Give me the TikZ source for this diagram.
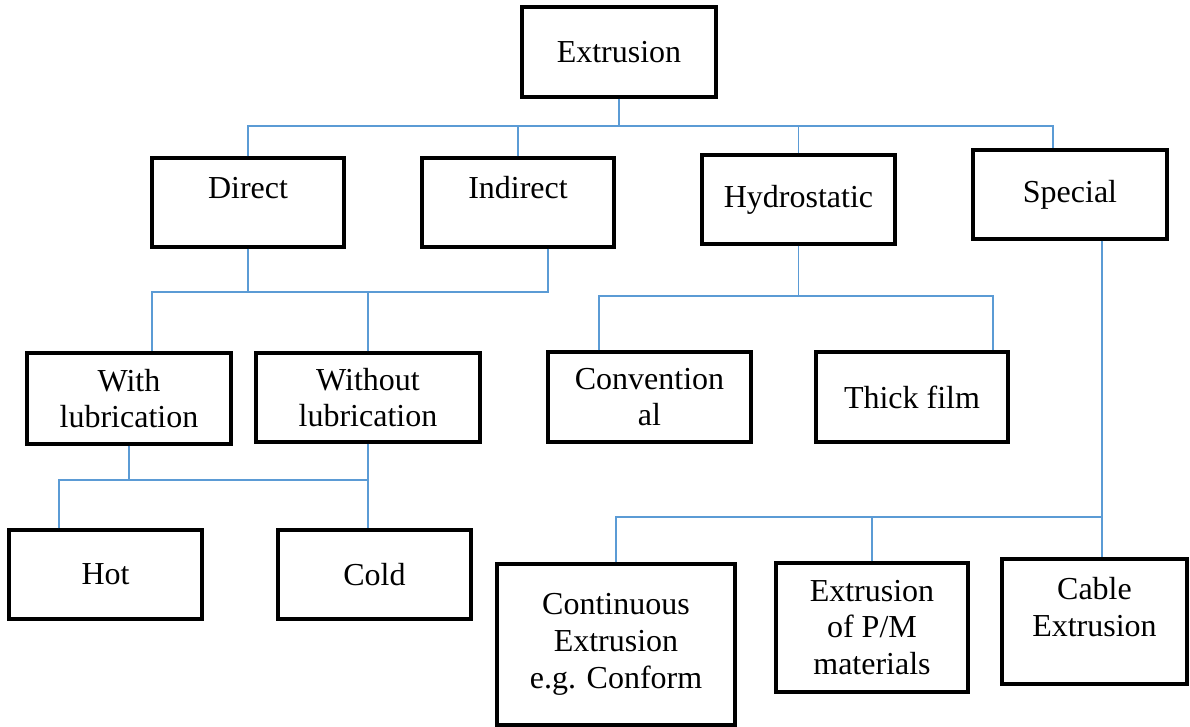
\documentclass[tikz,border=0pt]{standalone}
\usepackage{fontspec}
\setmainfont{Liberation Serif}
\definecolor{linkblue}{RGB}{91,155,213}

\begin{document}
\begin{tikzpicture}[
    x=0.75pt, y=-0.75pt,
    font=\fontsize{24}{27.5}\selectfont,
    box/.style={draw,line width=2.5pt,inner sep=0pt,align=center,fill=white},
    link/.style={draw=linkblue,line width=1.2pt}
]
\useasboundingbox (0,0) rectangle (1190,726);

% === Root ===
\node[box,minimum width=145.5pt,minimum height=67.5pt] (ext) at (619,52) {Extrusion};

% === Main types ===
\node[box,minimum width=144pt,text height=30pt,text depth=36.75pt] (direct) at (248,202.5) {Direct};
\node[box,minimum width=144pt,text height=30pt,text depth=36.75pt] (indirect) at (518,202.5) {Indirect};
\node[box,minimum width=144.75pt,minimum height=66.75pt] (hydro) at (798.5,199.5) {Hydrostatic};
\node[box,minimum width=145.5pt,minimum height=66.75pt] (special) at (1070,194.5) {Special};

% === Lubrication ===
\node[box,minimum width=153pt,minimum height=68.25pt] (withlub) at (129,398.5) {With\\lubrication};
\node[box,minimum width=168pt,minimum height=66.75pt] (withoutlub) at (368,397.5) {Without\\lubrication};

% === Hydrostatic kinds ===
\node[box,minimum width=152.25pt,minimum height=67.5pt] (conv) at (649.5,397) {Convention\\al};
\node[box,minimum width=144pt,minimum height=67.5pt] (thick) at (912,397) {Thick film};

% === Temperature ===
\node[box,minimum width=144.75pt,minimum height=66.75pt] (hot) at (105.5,574.5) {Hot};
\node[box,minimum width=144.75pt,minimum height=66.75pt] (cold) at (374.5,574.5) {Cold};

% === Special kinds ===
\node[box,minimum width=178.5pt,minimum height=120.75pt] (cont) at (616,644.5) {Continuous\\Extrusion\\e.g. Conform};
\node[box,minimum width=144pt,minimum height=96.75pt] (pm) at (872,627.5) {Extrusion\\of P/M\\materials};
\node[box,minimum width=138.75pt,text height=57.75pt,text depth=36pt] (cable) at (1094.5,621.5) {Cable\\Extrusion};

% === Attachment points ===
\coordinate (sptop) at ([xshift=-12.75pt]special.north);
\coordinate (spbot) at ([xshift=24pt]special.south);
\coordinate (indbot) at ([xshift=22.5pt]indirect.south);
\coordinate (wltop) at ([xshift=17.25pt]withlub.north);
\coordinate (convtop) at ([xshift=-38pt]conv.north);
\coordinate (thicktop) at ([xshift=60.75pt]thick.north);
\coordinate (hottop) at ([xshift=-35pt]hot.north);

% === Extrusion -> types ===
\coordinate (bus1) at (619,126);
\draw[link] (ext.south) -- (bus1);
\draw[link] (direct.north) |- (bus1) -| (sptop);
\draw[link] (indirect.north) -- (indirect.north |- bus1);
\draw[link] (hydro.north) -- (hydro.north |- bus1);

% === Direct/Indirect -> lubrication ===
\coordinate (bus2) at (248,292);
\draw[link] (direct.south) -- (bus2);
\draw[link] (indbot) |- (bus2) -| (wltop);
\draw[link] (withoutlub.north) -- (withoutlub.north |- bus2);

% === Hydrostatic -> kinds ===
\coordinate (bus3) at (798.5,296);
\draw[link] (hydro.south) -- (bus3);
\draw[link] (convtop) |- (bus3) -| (thicktop);

% === Lubrication -> temperature ===
\coordinate (bus4) at (129,480);
\draw[link] (withlub.south) -- (bus4);
\draw[link] (hottop) |- (bus4) -- (bus4 -| withoutlub.south);
\draw[link] (withoutlub.south) -- (withoutlub.south |- cold.north);

% === Special -> kinds ===
\coordinate (bus5) at (1102,517);
\draw[link] (spbot) -- (spbot |- cable.north);
\draw[link] (cont.north) |- (bus5);
\draw[link] (pm.north) -- (pm.north |- bus5);

\end{tikzpicture}
\end{document}
